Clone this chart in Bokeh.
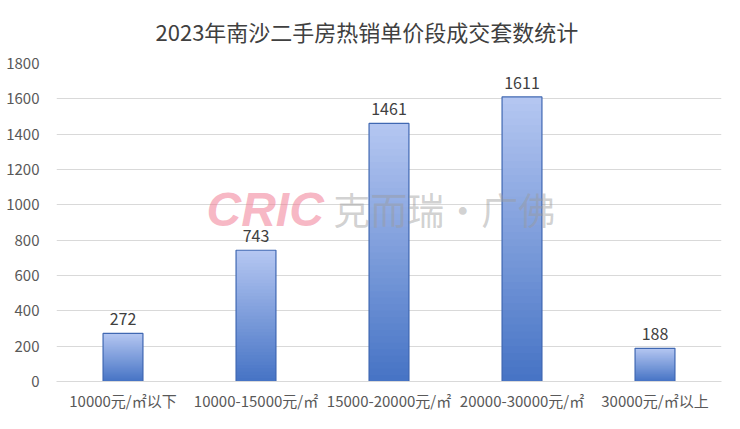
from bokeh.plotting import figure
from bokeh.models import ColumnDataSource, Label, FactorRange, Range1d
from bokeh.core.properties import value
from bokeh.embed import file_html
from bokeh.resources import INLINE

title = "2023年南沙二手房热销单价段成交套数统计"
categories = ["10000元/㎡以下", "10000-15000元/㎡", "15000-20000元/㎡",
              "20000-30000元/㎡", "30000元/㎡以上"]
counts = [272, 743, 1461, 1611, 188]
y_ticks = [0, 200, 400, 600, 800, 1000, 1200, 1400, 1600, 1800]

FONT = "Noto Sans CJK SC"

p = figure(width=724, height=413, x_range=FactorRange(*categories, range_padding=0),
           y_range=Range1d(0, 1800), output_backend="svg", toolbar_location=None,
           min_border_left=56, min_border_right=3, min_border_top=63, min_border_bottom=20)
p.outline_line_color = None
p.background_fill_color = "white"
p.border_fill_color = "white"

p.title.text = title
p.title.align = "left"
p.title.offset = 99
p.title.vertical_align = "top"
p.title.text_font = FONT
p.title.text_font_style = "normal"
p.title.text_font_size = "22px"
p.title.text_color = "#404040"
p.title.standoff = 29

# gradient bars: stacked bars from full height down, darker as shorter
N = 40
top_rgb = (180, 198, 241)
bot_rgb = (68, 114, 196)
for i in range(N):
    frac = (N - i) / N
    col = tuple(int(round(bot_rgb[k] + (top_rgb[k] - bot_rgb[k]) * frac)) for k in range(3))
    src = ColumnDataSource(dict(x=categories, top=[c * frac for c in counts]))
    p.vbar(x="x", top="top", bottom=0, width=0.3, source=src,
           fill_color="#%02x%02x%02x" % col, line_color=None)

src = ColumnDataSource(dict(x=categories, top=counts, lab=[str(c) for c in counts]))
p.vbar(x="x", top="top", bottom=0, width=0.3, source=src,
       fill_color=None, line_color="#4068b2", line_width=1.2)
p.text(x="x", y="top", text="lab", source=src, text_align="center",
       text_baseline="bottom", y_offset=-8, text_font=value(FONT),
       text_font_size="16px", text_color="#404040")

# watermark
p.add_layout(Label(x=2.01, y=975, text="CRIC", text_align="right", text_baseline="middle",
                   text_font="Liberation Sans", text_font_style="bold italic",
                   text_font_size="48px", text_color="#f07b93", text_alpha=0.55))
p.add_layout(Label(x=2.08, y=975, text="克而瑞·广佛", text_align="left", text_baseline="middle",
                   text_font=FONT, text_font_size="37px",
                   text_color="#9a9a9a", text_alpha=0.45))

p.yaxis.ticker = y_ticks
p.yaxis.axis_line_color = None
p.yaxis.major_tick_line_color = None
p.yaxis.minor_tick_line_color = None
p.yaxis.major_label_text_font = FONT
p.yaxis.major_label_text_font_size = "15px"
p.yaxis.major_label_text_color = "#595959"
p.yaxis.major_label_standoff = 11

p.xaxis.axis_line_color = "#d9d9d9"
p.xaxis.major_tick_line_color = None
p.xaxis.minor_tick_line_color = None
p.xaxis.major_label_text_font = FONT
p.xaxis.major_label_text_font_size = "15px"
p.xaxis.major_label_text_color = "#595959"
p.xaxis.major_label_standoff = 2

p.xgrid.grid_line_color = None
p.ygrid.grid_line_color = "#d9d9d9"

open("out.html", "w").write(file_html(p, INLINE))
